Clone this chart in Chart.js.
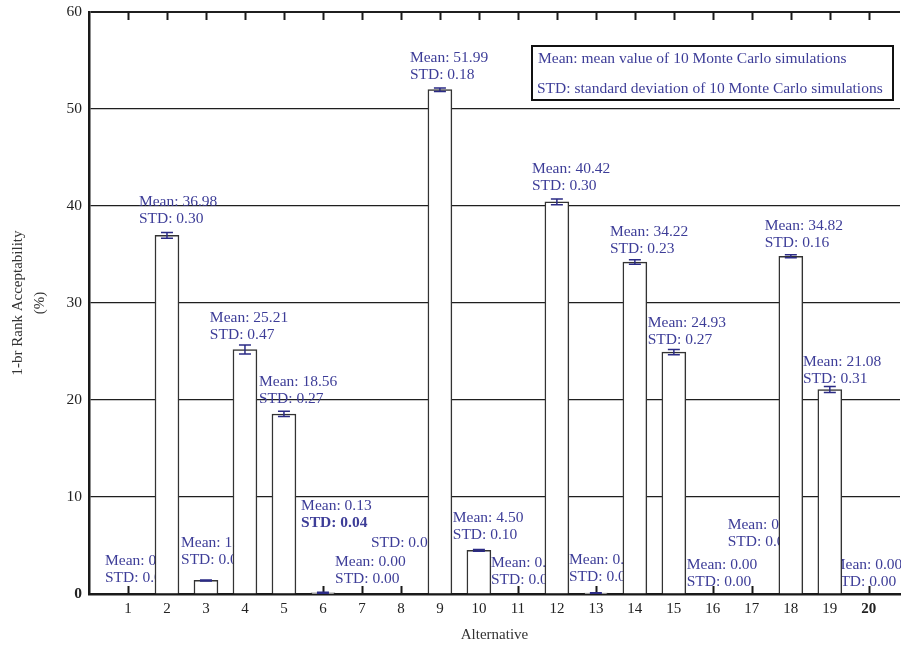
<!DOCTYPE html>
<html>
<head>
<meta charset="utf-8">
<script src="https://cdn.jsdelivr.net/npm/chart.js@4.4.1/dist/chart.umd.min.js"></script>
<style>
  html, body { margin: 0; padding: 0; background: #ffffff; overflow: hidden; }
  canvas { display: block; }
</style>
</head>
<body>
<canvas id="chart" width="901" height="652"></canvas>
<script>
// Alternatives on the horizontal axis
const alternatives = [1, 2, 3, 4, 5, 6, 7, 8, 9, 10, 11, 12, 13, 14, 15, 16, 17, 18, 19, 20];

// Mean 1-br rank acceptability (%) over 10 Monte Carlo runs
const meanValues = [0.00, 36.98, 1.40, 25.21, 18.56, 0.13, 0.00, 0.00, 51.99, 4.50,
                    0.00, 40.42, 0.10, 34.22, 24.93, 0.00, 0.00, 34.82, 21.08, 0.00];

// Standard deviation over the same runs
const stdValues = [0.00, 0.30, 0.05, 0.47, 0.27, 0.04, 0.00, 0.00, 0.18, 0.10,
                   0.00, 0.30, 0.02, 0.23, 0.27, 0.00, 0.00, 0.16, 0.31, 0.00];

// Value axis ticks
const yTicks = [0, 10, 20, 30, 40, 50, 60];

// Note box text
const noteLines = [
  'Mean: mean value of 10 Monte Carlo simulations',
  'STD: standard deviation of 10 Monte Carlo simulations'
];

// Where each Mean/STD label sits (axis units: left edge, middle of first line)
const labelPlacement = [
  { x: 0.41,  y: 3.40 },
  { x: 1.28,  y: 40.41 },
  { x: 2.36,  y: 5.26 },
  { x: 3.10,  y: 28.45 },
  { x: 4.36,  y: 21.86 },
  { x: 5.44,  y: 9.07, boldStd: true },
  { x: 6.31,  y: 3.30 },
  { x: 7.23,  y: 5.26, stdOnly: true },
  { x: 8.23,  y: 55.26 },
  { x: 9.33,  y: 7.84 },
  { x: 10.31, y: 3.20 },
  { x: 11.36, y: 43.81 },
  { x: 12.31, y: 3.51 },
  { x: 13.36, y: 37.32 },
  { x: 14.33, y: 27.94 },
  { x: 15.33, y: 2.99 },
  { x: 16.38, y: 7.11 },
  { x: 17.33, y: 37.94 },
  { x: 18.31, y: 23.92 },
  { x: 19.05, y: 2.99 }
];

const SERIF = '"Liberation Serif", "DejaVu Serif", serif';
const LABEL_COLOR = '#3d3d98';
const ERR_COLOR = '#2b2b85';
const AXIS_COLOR = '#1a1a1a';

const barData = alternatives.map((a, i) => ({ x: a, y: meanValues[i] }));

// Labels and inward ticks go under the bars; error bars and the note box go on top
const overlay = {
  id: 'overlay',
  beforeDatasetsDraw(chart) {
    const { ctx, chartArea, scales: { x, y } } = chart;
    ctx.save();
    // inward tick marks on the bottom and top frame
    ctx.strokeStyle = AXIS_COLOR;
    ctx.lineWidth = 2;
    alternatives.forEach(a => {
      const px = Math.round(x.getPixelForValue(a)) + 0.5;
      ctx.beginPath();
      ctx.moveTo(px, chartArea.bottom);
      ctx.lineTo(px, chartArea.bottom - 8);
      ctx.moveTo(px, chartArea.top);
      ctx.lineTo(px, chartArea.top + 8);
      ctx.stroke();
    });
    // Mean / STD labels
    ctx.textAlign = 'left';
    ctx.textBaseline = 'middle';
    ctx.fillStyle = LABEL_COLOR;
    labelPlacement.forEach((p, i) => {
      const px = x.getPixelForValue(p.x);
      const py = y.getPixelForValue(p.y);
      const lines = [];
      if (!p.stdOnly) lines.push({ t: 'Mean: ' + meanValues[i].toFixed(2), bold: false });
      lines.push({ t: 'STD: ' + stdValues[i].toFixed(2), bold: !!p.boldStd });
      lines.forEach((l, k) => {
        ctx.font = (l.bold ? 'bold ' : '') + '15.5px ' + SERIF;
        ctx.fillText(l.t, px, py + k * 16.5);
      });
    });
    ctx.restore();
  },
  afterDatasetsDraw(chart) {
    const { ctx, scales: { x, y } } = chart;
    ctx.save();
    ctx.strokeStyle = ERR_COLOR;
    ctx.lineWidth = 1.5;
    alternatives.forEach((a, i) => {
      if (meanValues[i] <= 0) return;
      const px = x.getPixelForValue(a);
      const yHi = y.getPixelForValue(meanValues[i] + stdValues[i]);
      const yLo = y.getPixelForValue(meanValues[i] - stdValues[i]);
      ctx.beginPath();
      ctx.moveTo(px, yHi); ctx.lineTo(px, yLo);
      ctx.moveTo(px - 6, yHi); ctx.lineTo(px + 6, yHi);
      ctx.moveTo(px - 6, yLo); ctx.lineTo(px + 6, yLo);
      ctx.stroke();
    });
    ctx.restore();
  },
  afterDraw(chart) {
    const { ctx, chartArea } = chart;
    const bw = 361, bh = 54;
    const bx = chartArea.right - 368, by = chartArea.top + 34;
    ctx.save();
    ctx.fillStyle = '#ffffff';
    ctx.fillRect(bx, by, bw, bh);
    ctx.strokeStyle = '#111111';
    ctx.lineWidth = 2;
    ctx.strokeRect(bx, by, bw, bh);
    ctx.fillStyle = LABEL_COLOR;
    ctx.font = '15.5px ' + SERIF;
    ctx.textAlign = 'left';
    ctx.textBaseline = 'middle';
    ctx.fillText(noteLines[0], bx + 6, by + 13);
    ctx.fillText(noteLines[1], bx + 5, by + 43);
    ctx.restore();
  }
};

new Chart(document.getElementById('chart'), {
  type: 'bar',
  data: {
    datasets: [{
      data: barData,
      backgroundColor: '#ffffff',
      borderColor: '#333333',
      borderWidth: 1.5,
      barThickness: 24
    }]
  },
  options: {
    responsive: false,
    animation: false,
    devicePixelRatio: 1,
    layout: { padding: { top: 12, right: 1, left: 0, bottom: 0 } },
    plugins: { legend: { display: false }, tooltip: { enabled: false } },
    scales: {
      x: {
        type: 'linear',
        min: 0,
        max: 20.8,
        offset: false,
        z: 1,
        grid: { display: false, drawTicks: false, offset: false },
        border: { display: true, color: AXIS_COLOR, width: 2.5 },
        afterBuildTicks: s => { s.ticks = alternatives.map(v => ({ value: v })); },
        ticks: {
          autoSkip: false,
          maxRotation: 0,
          padding: 6,
          color: '#222222',
          font: c => ({ family: SERIF, size: 15, weight: c.tick && c.tick.value === 20 ? 'bold' : 'normal' }),
          callback: v => String(v)
        },
        title: {
          display: true,
          text: 'Alternative',
          color: '#333333',
          font: { family: SERIF, size: 15 },
          padding: { top: 0, bottom: 8 }
        },
        afterFit: s => { s.height = 58; s.paddingLeft = 0; s.paddingRight = 0; }
      },
      y: {
        min: 0,
        max: 60,
        afterBuildTicks: s => { s.ticks = yTicks.map(v => ({ value: v })); },
        grid: {
          drawTicks: false,
          color: c => c.tick && c.tick.value === 0 ? 'rgba(0,0,0,0)' : '#1f1f1f',
          lineWidth: c => c.tick && c.tick.value === 60 ? 2 : 1.3
        },
        border: { color: AXIS_COLOR, width: 2.5 },
        ticks: {
          padding: 7,
          color: '#222222',
          font: c => ({ family: SERIF, size: 15.5, weight: c.tick && c.tick.value === 0 ? 'bold' : 'normal' })
        },
        title: {
          display: true,
          text: ['1-br Rank Acceptability', '(%)'],
          color: '#333333',
          font: { family: SERIF, size: 15, lineHeight: 1.45 },
          padding: { top: 7, bottom: 0 }
        },
        afterFit: s => { s.width = 89; s.paddingTop = 0; s.paddingBottom = 0; }
      }
    }
  },
  plugins: [overlay]
});
</script>
</body>
</html>
